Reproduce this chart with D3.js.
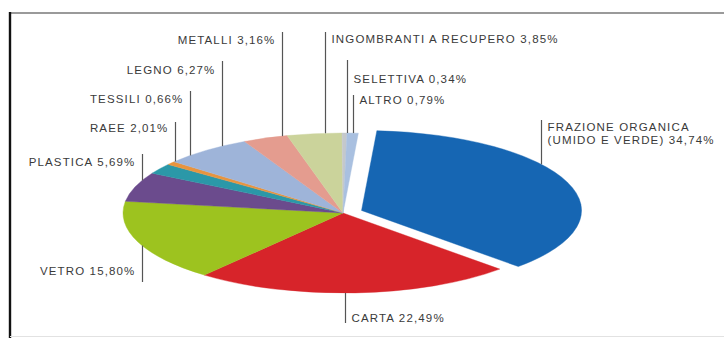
<!DOCTYPE html>
<html>
<head>
<meta charset="utf-8">
<script src="https://cdn.jsdelivr.net/npm/d3@7"></script>
<style>
  html, body { margin: 0; padding: 0; background: #fff; }
  svg { display: block; }
  .lbl { font-family: "Liberation Sans", Arial, sans-serif; font-size: 11.5px; letter-spacing: 1.15px; fill: #3a3a3a; }
</style>
</head>
<body>
<svg id="chart" width="724" height="338"></svg>
<script>
// Raccolta differenziata: composizione per frazione (%)
const categories = [
  "FRAZIONE ORGANICA (UMIDO E VERDE)", "CARTA", "VETRO", "PLASTICA", "RAEE",
  "TESSILI", "LEGNO", "METALLI", "INGOMBRANTI A RECUPERO", "SELETTIVA", "ALTRO"
];
const values = [34.74, 22.49, 15.80, 5.69, 2.01, 0.66, 6.27, 3.16, 3.85, 0.34, 0.79];
const colors = [
  "#1666b3", "#d7242a", "#9dc31f", "#6b4b8d", "#2b98a8",
  "#e8943e", "#9eb4d9", "#e49c8f", "#cbd39b", "#c4c8cc", "#a9c0e0"
];
const explodedIndex = 0;

// Label layout: side of the leader line, text row (centre y), far end of the leader, x nudge
const labelSide   = ["right", "right", "left", "left", "left", "left", "left", "left", "right", "right", "right"];
const labelRowY   = [[127, 140], [318], [271], [162], [128], [99], [70], [40], [39], [79], [100]];
const leaderEndY  = [120, 323, 282, 154, 122, 91, 61, 32, 32, 60, 95];
const leaderNudge = [-26, -10, 4, 7, 15, 19, 16, 17, 11, 2, 0];
const labelLines  = [["FRAZIONE ORGANICA", "(UMIDO E VERDE)"]];

const svg = d3.select("#chart");
const W = 724, H = 338;

// frame
svg.append("line").attr("x1", 9).attr("x2", W).attr("y1", 13).attr("y2", 13)
  .attr("stroke", "#9a9a9a").attr("stroke-width", 2);
svg.append("line").attr("x1", 10).attr("x2", 10).attr("y1", 12).attr("y2", H)
  .attr("stroke", "#111").attr("stroke-width", 2.4);
svg.append("line").attr("x1", 10).attr("x2", W).attr("y1", 336.5).attr("y2", 336.5)
  .attr("stroke", "#e2e2e2").attr("stroke-width", 1);

// tilted pie: a flat circle of radius rx squashed to an ellipse
const cx = 343, cy = 213, rx = 220, ry = 80;
const startDeg = 4;
const explode = 0.09 * rx;

const pie = d3.pie().sort(null).value(d => d)
  .startAngle(startDeg * Math.PI / 180)
  .endAngle((startDeg + 360) * Math.PI / 180);
const arcs = pie(values);
const arc = d3.arc().innerRadius(0).outerRadius(rx);

const fmt = v => d3.format(".2f")(v).replace(".", ",") + "%";

function offsetOf(i) {
  if (i !== explodedIndex) return [0, 0];
  const a = arcs[i];
  const mid = (a.startAngle + a.endAngle) / 2;
  return [explode * Math.sin(mid), -explode * Math.cos(mid)];
}

const g = svg.append("g").attr("transform", `translate(${cx},${cy}) scale(1,${ry / rx})`);
g.selectAll("path.slice").data(arcs).enter().append("path")
  .attr("class", "slice")
  .attr("d", arc)
  .attr("fill", (d, i) => colors[i])
  .attr("stroke", (d, i) => colors[i])
  .attr("stroke-width", 0.6)
  .attr("transform", (d, i) => { const o = offsetOf(i); return `translate(${o[0]},${o[1]})`; });

// leader lines and labels
const labels = svg.append("g");
arcs.forEach((a, i) => {
  const mid = (a.startAngle + a.endAngle) / 2;
  const o = offsetOf(i);
  const ox = o[0], oy = o[1] * ry / rx;
  const x = cx + ox + rx * Math.sin(mid) + leaderNudge[i];
  const t = Math.max(0, 1 - Math.pow((x - cx - ox) / rx, 2));
  const upper = Math.cos(mid) > 0 || leaderEndY[i] < cy;
  const edgeY = cy + oy + (upper ? -1 : 1) * ry * Math.sqrt(t);
  const lx = Math.round(x) + 0.5;

  labels.append("line")
    .attr("x1", lx).attr("x2", lx)
    .attr("y1", leaderEndY[i]).attr("y2", edgeY)
    .attr("stroke", "#555").attr("stroke-width", 1.2);

  const right = labelSide[i] === "right";
  const rows = labelRowY[i];
  const parts = labelLines[i] ? labelLines[i].slice() : [categories[i]];
  parts[parts.length - 1] += " " + fmt(values[i]);
  rows.forEach((ry0, k) => {
    labels.append("text").attr("class", "lbl")
      .attr("x", right ? lx + 6 : lx - 7)
      .attr("y", ry0)
      .attr("dy", "0.36em")
      .attr("text-anchor", right ? "start" : "end")
      .text(parts[k]);
  });
});
</script>
</body>
</html>
